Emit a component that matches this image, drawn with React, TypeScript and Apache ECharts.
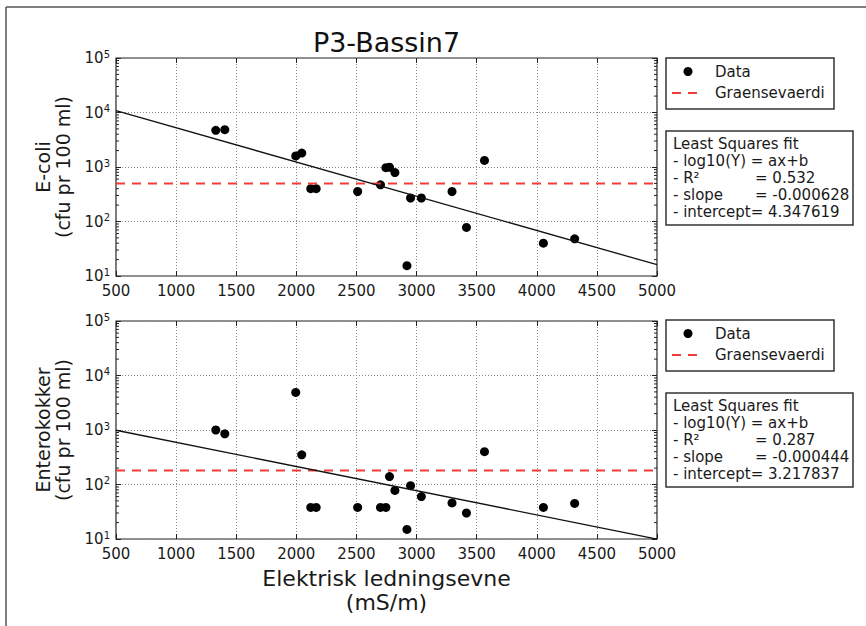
import React, { useEffect, useRef } from "react";
import * as echarts from "echarts";

// ---- data ----
const xMin = 500;
const xMax = 5000;
const xStep = 500;
const yMin = 10;
const yMax = 100000;

const conductivity = [1330, 1405, 1995, 2045, 2120, 2165, 2510, 2700, 2745, 2775, 2820, 2920, 2950, 3040, 3295, 3415, 3565, 4055, 4315];
const ecoli = [4700, 4850, 1600, 1800, 400, 400, 355, 470, 970, 990, 790, 15.5, 270, 270, 355, 78, 1320, 40, 48];
const enterococci = [1000, 850, 4900, 350, 38, 38, 38, 38, 38, 140, 78, 15, 95, 60, 46, 30, 400, 38, 45];

const thresholds = [500, 180];
// fitted line values at xMin and xMax (log10(Y) = ax + b)
const fitEcoli = [10810, 16.1];
const fitEntero = [990, 9.95];

const panelTitles = ["E-coli\n(cfu pr 100 ml)", "Enterokokker\n(cfu pr 100 ml)"];
const fitR2 = ["0.532", "0.287"];
const fitSlope = ["-0.000628", "-0.000444"];
const fitIntercept = ["4.347619", "3.217837"];
const legendNames = ["Data", "Graensevaerdi"];

const minorTickValues: number[] = [];
for (let k = 1; k < 5; k++) for (let m = 2; m <= 9; m++) minorTickValues.push(m * Math.pow(10, k));

// ---- layout ----
const FONT = "DejaVu Sans";
const TXT = "#1a1a1a";
const PL = 116;
const PW = 541;
const PH = 218;
const PT = [58, 321];
const LEG_T = [58, 320];
const BOX_T = [131, 393];
const RED = "#f03c3c";

function App() {
  const ref = useRef<HTMLDivElement>(null);
  useEffect(() => {
    if (!ref.current) return;
    const chart = echarts.init(ref.current, null, { renderer: "svg" });

    const gridLine = { show: true, lineStyle: { color: "#8a8a8a", type: [1, 2] as any, width: 1 } };
    const labelStyle = { fontFamily: FONT, fontSize: 15, color: TXT };

    const xAxes: any[] = [];
    const yAxes: any[] = [];
    [0, 1].forEach((g) => {
      xAxes.push({
        type: "value", gridIndex: g, position: "bottom", min: xMin, max: xMax, interval: xStep,
        axisLine: { show: false },
        axisTick: { show: true, inside: true, length: 5, lineStyle: { color: "#222" } },
        axisLabel: { ...labelStyle, margin: 7, formatter: (v: number) => String(v) },
        splitLine: gridLine,
      });
      xAxes.push({
        type: "value", gridIndex: g, position: "top", min: xMin, max: xMax, interval: xStep,
        axisLine: { show: false },
        axisTick: { show: true, inside: true, length: 5, lineStyle: { color: "#222" } },
        axisLabel: { show: false },
        splitLine: { show: false },
      });
      yAxes.push({
        type: "log", logBase: 10, gridIndex: g, position: "left", min: yMin, max: yMax,
        axisLine: { show: false },
        axisTick: { show: true, inside: true, length: 5, lineStyle: { color: "#222" } },
        axisLabel: {
          ...labelStyle, margin: 6,
          formatter: (v: number) => `{b|10}{s|${Math.round(Math.log10(v))}}`,
          rich: {
            b: { fontFamily: FONT, fontSize: 15, color: TXT, lineHeight: 18 },
            s: { fontFamily: FONT, fontSize: 10, color: TXT, lineHeight: 10, verticalAlign: "top" },
          },
        },
        splitLine: gridLine,
      });
      yAxes.push({
        type: "log", logBase: 10, gridIndex: g, position: "right", min: yMin, max: yMax,
        axisLine: { show: false },
        axisTick: { show: true, inside: true, length: 5, lineStyle: { color: "#222" } },
        axisLabel: { show: false },
        splitLine: { show: false },
      });
    });

    const series: any[] = [];
    const values = [ecoli, enterococci];
    const fits = [fitEcoli, fitEntero];
    [0, 1].forEach((g) => {
      const xi = g * 2;
      const yi = g * 2;
      series.push({
        type: "custom", xAxisIndex: xi, yAxisIndex: yi, silent: true, clip: false,
        data: minorTickValues.map((v) => [xMin, v]),
        renderItem: (params: any, api: any) => {
          const v = api.value(1);
          const a = api.coord([xMin, v]);
          const b = api.coord([xMax, v]);
          const st = { stroke: "#222", lineWidth: 1 };
          return {
            type: "group",
            children: [
              { type: "line", shape: { x1: a[0], y1: a[1], x2: a[0] + 3, y2: a[1] }, style: st },
              { type: "line", shape: { x1: b[0] - 3, y1: b[1], x2: b[0], y2: b[1] }, style: st },
            ],
          };
        },
      });
      series.push({
        name: "Graensevaerdi", type: "line", xAxisIndex: xi, yAxisIndex: yi, showSymbol: false, silent: true,
        data: [[xMin, thresholds[g]], [xMax, thresholds[g]]],
        lineStyle: { color: RED, width: 2, type: [9, 7] },
      });
      series.push({
        name: "fit", type: "line", xAxisIndex: xi, yAxisIndex: yi, showSymbol: false, silent: true,
        data: [[xMin, fits[g][0]], [xMax, fits[g][1]]],
        lineStyle: { color: "#111", width: 1.3 },
      });
      series.push({
        name: "Data", type: "scatter", xAxisIndex: xi, yAxisIndex: yi, symbolSize: 9,
        itemStyle: { color: "#000", opacity: 1 },
        data: conductivity.map((x, i) => [x, values[g][i]]),
      });
    });

    const graphic: any[] = [
      { type: "line", shape: { x1: 6, y1: 7, x2: 866, y2: 7 }, style: { stroke: "#555", lineWidth: 1.5 } },
      { type: "line", shape: { x1: 6, y1: 7, x2: 6, y2: 626 }, style: { stroke: "#555", lineWidth: 1.5 } },
      {
        type: "text", x: PL + PW / 2, y: 42,
        style: { text: "P3-Bassin7", font: `27px "${FONT}"`, fill: "#111", textAlign: "center", textVerticalAlign: "middle" },
      },
      {
        type: "text", x: PL + PW / 2, y: 590,
        style: {
          text: "Elektrisk ledningsevne\n(mS/m)", font: `22px "${FONT}"`, lineHeight: 24, fill: TXT,
          textAlign: "center", textVerticalAlign: "middle",
        },
      },
    ];
    [0, 1].forEach((g) => {
      graphic.push({
        type: "text", x: 53, y: PT[g] + PH / 2, rotation: Math.PI / 2,
        style: {
          text: panelTitles[g], font: `19px "${FONT}"`, lineHeight: 20, fill: TXT,
          textAlign: "center", textVerticalAlign: "middle",
        },
      });
      const lt = LEG_T[g];
      graphic.push({ type: "rect", shape: { x: 666, y: lt, width: 168, height: 51 }, style: { fill: "#fff", stroke: "#333", lineWidth: 1.5 } });
      graphic.push({ type: "circle", shape: { cx: 688, cy: lt + 13.5, r: 4.5 }, style: { fill: "#000" } });
      graphic.push({ type: "text", x: 715, y: lt + 13.5, style: { text: legendNames[0], font: `15px "${FONT}"`, fill: TXT, textVerticalAlign: "middle" } });
      graphic.push({ type: "line", shape: { x1: 672, y1: lt + 35, x2: 698, y2: lt + 35 }, style: { stroke: RED, lineWidth: 2, lineDash: [9, 7] } });
      graphic.push({ type: "text", x: 715, y: lt + 35, style: { text: legendNames[1], font: `15px "${FONT}"`, fill: TXT, textVerticalAlign: "middle" } });

      const bt = BOX_T[g];
      graphic.push({ type: "rect", shape: { x: 666, y: bt, width: 187, height: 94 }, style: { fill: "#fff", stroke: "#333", lineWidth: 1.5 } });
      const rows: [number, string, string | null][] = [
        [12.5, "Least Squares fit", null],
        [29.5, "- log10(Y) = ax+b", null],
        [46.5, "- R\u00b2", "= " + fitR2[g]],
        [63.5, "- slope", "= " + fitSlope[g]],
        [80.5, "- intercept= " + fitIntercept[g], null],
      ];
      rows.forEach(([dy, a, b]) => {
        graphic.push({ type: "text", x: 673, y: bt + dy, style: { text: a, font: `15px "${FONT}"`, lineHeight: 16, fill: TXT, textVerticalAlign: "middle" } });
        if (b) graphic.push({ type: "text", x: 755, y: bt + dy, style: { text: b, font: `15px "${FONT}"`, lineHeight: 16, fill: TXT, textVerticalAlign: "middle" } });
      });
    });

    chart.setOption({
      animation: false,
      backgroundColor: "#fff",
      grid: PT.map((t) => ({ left: PL, top: t, width: PW, height: PH, show: true, borderColor: "#222", borderWidth: 1.2, backgroundColor: "transparent" })),
      xAxis: xAxes,
      yAxis: yAxes,
      series,
      graphic,
    });
    return () => chart.dispose();
  }, []);
  return <div ref={ref} style={{ position: "fixed", left: 0, top: 0, width: 866, height: 626 }} />;
}

export default App;
